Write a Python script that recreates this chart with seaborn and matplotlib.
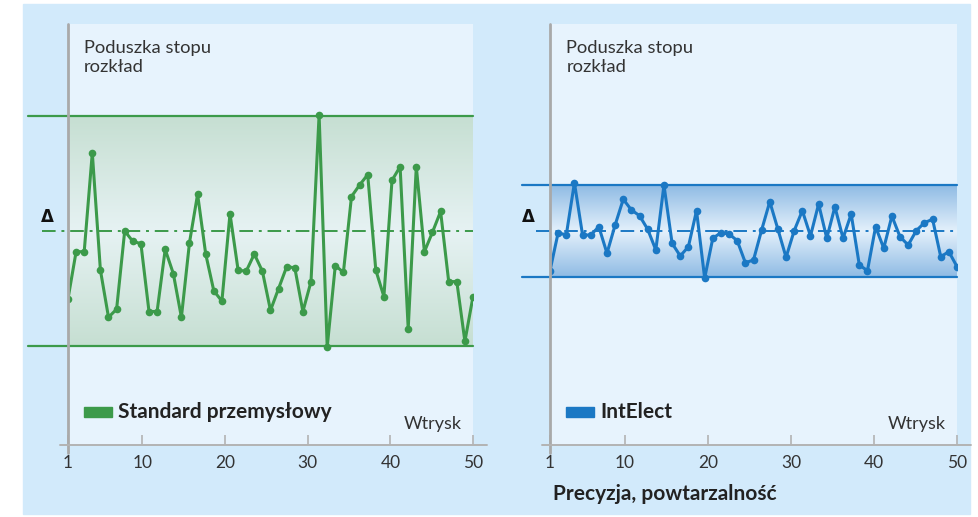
import numpy as np
import matplotlib
matplotlib.use("Agg")
import matplotlib.pyplot as plt
import seaborn as sns
from matplotlib.patches import Rectangle
from matplotlib.colors import LinearSegmentedColormap

sns.set_style("white")
plt.rcParams['font.family'] = ['Lato', 'DejaVu Sans']

# odchylenie poduszki (jednostki: tolerancja standardu = 1)
standard = [-0.59, -0.18, -0.18, 0.68, -0.34, -0.75, -0.68, 0.00, -0.09, -0.11,
            -0.70, -0.70, -0.16, -0.37, -0.75, -0.10, 0.32, -0.20, -0.52, -0.61,
            0.15, -0.34, -0.35, -0.20, -0.35, -0.69, -0.50, -0.31, -0.32, -0.70,
            -0.44, 1.01, -1.01, -0.30, -0.36, 0.30, 0.40, 0.49, -0.34, -0.57,
            0.44, 0.56, -0.85, 0.56, -0.18, -0.01, 0.17, -0.44, -0.44, -0.96,
            -0.57]
intelect = [-0.345, -0.015, -0.035, 0.42, -0.035, -0.035, 0.037, -0.194, 0.052, 0.276,
            0.183, 0.133, 0.015, -0.165, 0.40, -0.107, -0.217, -0.137, 0.177, -0.41,
            -0.063, -0.015, -0.026, -0.084, -0.276, -0.252, 0.009, 0.255, 0.015, -0.229,
            0.003, 0.177, -0.043, 0.235, -0.063, 0.211, -0.063, 0.148, -0.296, -0.345,
            0.037, -0.150, 0.130, -0.050, -0.122, 0.003, 0.072, 0.102, -0.223, -0.180,
            -0.310]
band_std = 1.0
band_int = 0.4
xticks = [1, 10, 20, 30, 40, 50]
title = "Poduszka stopu\nrozkład"
labels = ["Standard przemysłowy", "IntElect"]

W, H = 979, 517
fig = plt.figure(figsize=(W / 100, H / 100), dpi=100, facecolor='white')
fig.patches.append(Rectangle((23 / W, 1 - 514 / H), (970 - 23) / W, (514 - 4) / H,
                             transform=fig.transFigure, color='#d2eafb', zorder=-10))

panels = [
    dict(x0=68, x1=473, data=standard, band=band_std, color='#3c9a4a',
         edge='#c6dfd2', mid='#e6f2f3', label=labels[0], ext=-0.099),
    dict(x0=550, x1=957, data=intelect, band=band_int, color='#1b78c4',
         edge='#8fbbe4', mid='#e3f0fb', label=labels[1], ext=-0.069),
]

top, bot = 24, 445
ymin, ymax = (231 - bot) / 115, (231 - top) / 115

for p in panels:
    ax = fig.add_axes([p['x0'] / W, 1 - bot / H, (p['x1'] - p['x0']) / W, (bot - top) / H])
    ax.set_facecolor('#e7f3fd')
    shots = np.linspace(1, 50, len(p['data']))

    # pasmo tolerancji z gradientem
    cmap = LinearSegmentedColormap.from_list('g', [p['mid'], p['edge']])
    grad = np.abs(np.linspace(-1, 1, 200))[:, None]
    ax.imshow(grad, extent=[1, 50, -p['band'], p['band']], aspect='auto', cmap=cmap,
              zorder=0, interpolation='bicubic')
    ax.set_xlim(1, 50)
    ax.set_ylim(ymin, ymax)

    tr = ax.get_yaxis_transform()
    for yv in (p['band'], -p['band']):
        ax.plot([p['ext'], 1], [yv, yv], transform=tr, color=p['color'], lw=1.6,
                clip_on=False, zorder=2)
    ax.plot([p['ext'] + 0.035, 1], [0, 0], transform=tr, color=p['color'], lw=1.4,
            ls=(0, (7, 3, 1.5, 3)), clip_on=False, zorder=2)

    sns.lineplot(x=shots, y=p['data'], ax=ax, color=p['color'], lw=2.2, marker='o',
                 markersize=5.5, markeredgewidth=0, zorder=4)

    for s in ax.spines.values():
        s.set_visible(False)
    ax.plot([0, 0], [-0.02, 1], transform=ax.transAxes, color='#a9a9a9', lw=2,
            clip_on=False, zorder=5)
    ax.plot([-0.02, 1.035], [0, 0], transform=ax.transAxes, color='#b3b3b3', lw=1.4,
            clip_on=False, zorder=5)

    ax.set_xticks(xticks)
    ax.set_xticklabels([str(t) for t in xticks])
    ax.set_yticks([])
    ax.tick_params(axis='x', direction='in', length=7, width=1.2, color='#b3b3b3',
                   labelsize=12.5, labelcolor='#333333', pad=7, bottom=True)

    ax.text(-0.052, 0.12, 'Δ', transform=tr, ha='center', va='center', fontsize=12,
            color='#111111', fontweight='bold', family=['DejaVu Sans'])
    ax.text(0.04, 0.962, title, transform=ax.transAxes, ha='left', va='top',
            fontsize=13.2, color='#333333', linespacing=1.2)
    ax.add_patch(Rectangle((0.04, 28 / 421), 28 / 405, 10 / 421, transform=ax.transAxes,
                           color=p['color'], clip_on=False, zorder=5))
    ax.text(50 / 405, 33 / 421, p['label'], transform=ax.transAxes, ha='left',
            va='center', fontsize=15, fontweight='bold', color='#222222')
    ax.text(0.973, 0.05, 'Wtrysk', transform=ax.transAxes, ha='right', va='center',
            fontsize=13, color='#333333')
    ax.grid(False)

fig.text(553 / W, 1 - 494 / H, 'Precyzja, powtarzalność', ha='left', va='center',
         fontsize=15, fontweight='bold', color='#222222')

fig.savefig('out.png', dpi=100, facecolor='white')
